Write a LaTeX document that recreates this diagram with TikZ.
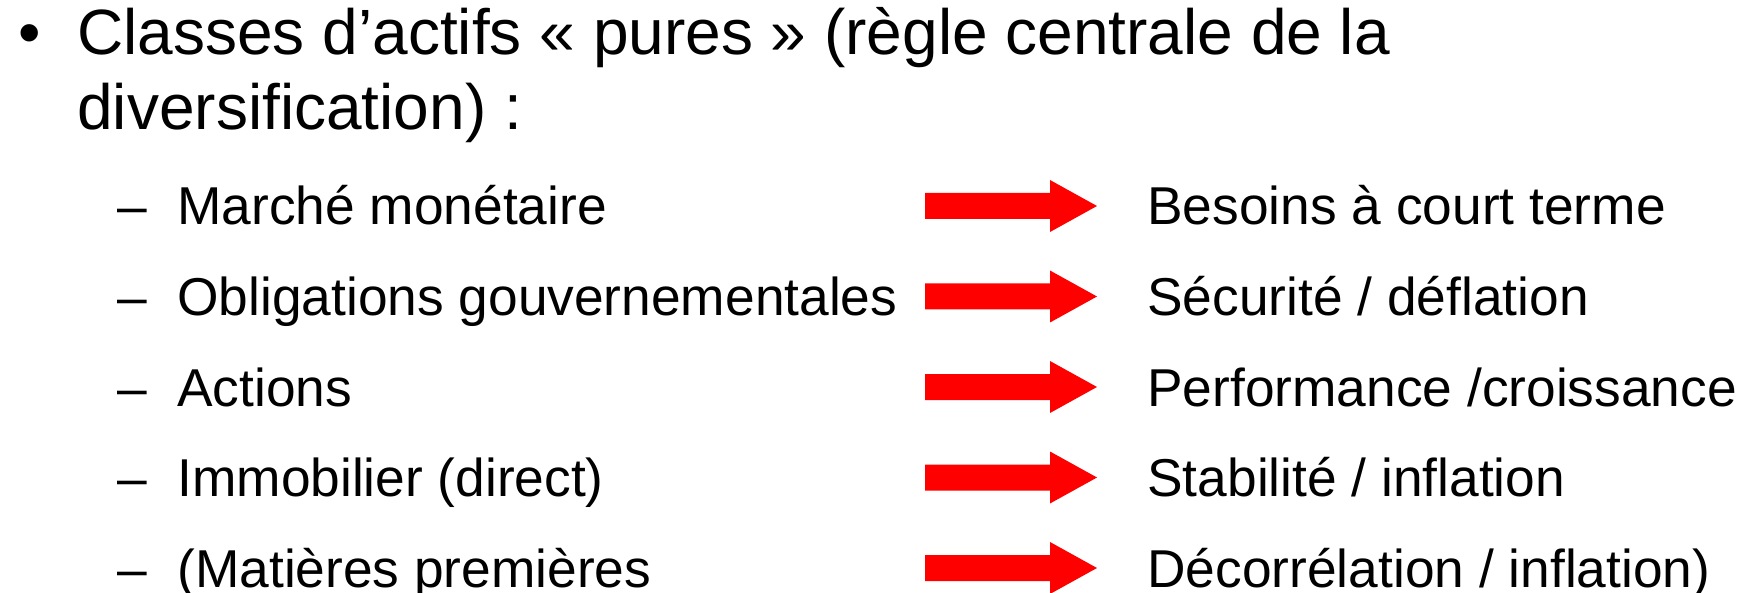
\documentclass[tikz,border=0pt]{standalone}
\usepackage{fontspec}
\setmainfont{Liberation Sans}
\begin{document}
\begin{tikzpicture}[x=0.5pt,y=-0.5pt,
  titletext/.style={anchor=base west,inner sep=0pt,font=\fontsize{32}{38.4}\selectfont},
  itemtext/.style={anchor=base west,inner sep=0pt,font=\fontsize{26.65}{32}\selectfont},
  blockarrow/.style={fill={rgb,255:red,255;green,0;blue,0},draw=none}]
\useasboundingbox (0,0) rectangle (1751,593);
% title
\node[titletext] (bullet) at (18,55) {•};
\node[titletext] (t1) at (77,55) {Classes d’actifs « pures » (règle centrale de la};
\node[titletext] (t2) at (77,130) {diversification) :};
% items
\foreach \i/\l/\r in {0/{Marché monétaire}/{Besoins à court terme},
  1/{Obligations gouvernementales}/{Sécurité / déflation},
  2/{Actions}/{Performance /croissance},
  3/{Immobilier (direct)}/{Stabilité / inflation},
  4/{(Matières premières}/{Décorrélation / inflation)}}{
  \pgfmathsetmacro{\yb}{225+90.5*\i}
  \node[itemtext] (d\i) at (117,\yb) {–};
  \node[itemtext] (l\i) at (177,\yb) {\l};
  \node[itemtext] (r\i) at (1147,\yb) {\r};
  \coordinate (a\i) at (925,\yb-19);
  \fill[blockarrow] (a\i) ++(0,-13) -- ++(125,0) -- ++(0,-13) -- ++(47,26) -- ++(-47,26) -- ++(0,-13) -- ++(-125,0) -- cycle;
}
\end{tikzpicture}
\end{document}
